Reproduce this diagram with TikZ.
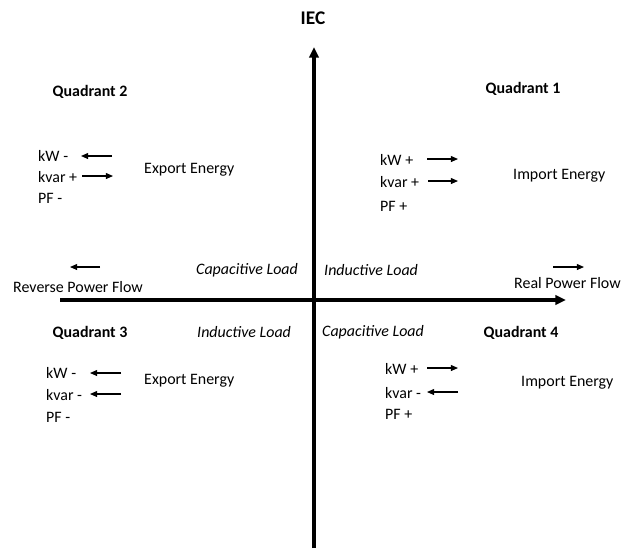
\documentclass[tikz,border=0pt]{standalone}
\usepackage{fontspec}
\setmainfont{Carlito}
\usetikzlibrary{arrows.meta}

\begin{document}
\begin{tikzpicture}[
    x=0.03cm, y=-0.03cm,
    every node/.style={font=\fontsize{13.6}{16}\selectfont, inner sep=0pt},
    quad/.style={font=\fontsize{13.6}{16}\selectfont\bfseries},
    txt/.style={anchor=west},
    load/.style={anchor=west, font=\fontsize{13.6}{16}\selectfont\itshape},
    axis/.style={-{Triangle[length=9pt, width=8pt]}, line width=2.6pt},
    sarr/.style={-{Triangle[length=6pt, width=5pt]}, line width=1pt},
]
\useasboundingbox (0,0) rectangle (623,548);

% ---------------- axes
\coordinate (vbot) at (314,548);
\coordinate (vtop) at (314,47);
\coordinate (hleft) at (60,300);
\coordinate (hright) at (566,300);
\draw[axis] (vbot) -- (vtop);
\draw[axis] (hleft) -- (hright);
\node[quad, font=\fontsize{16.5}{19}\selectfont\bfseries] (iec) at (313,18) {IEC};

% ---------------- quadrant titles
\node[quad] (q1) at (523,89) {Quadrant 1};
\node[quad] (q2) at (90,92) {Quadrant 2};
\node[quad] (q3) at (90,333) {Quadrant 3};
\node[quad] (q4) at (521,333) {Quadrant 4};

% ---------------- quadrant 2
\node[txt] (kw2) at (38,156) {kW -};
\node[txt] (kv2) at (38,177) {kvar +};
\node[txt] (pf2) at (38,198) {PF -};
\node[txt] (en2) at (144,170) {Export Energy};

% ---------------- quadrant 1
\node[txt] (kw1) at (380,160) {kW +};
\node[txt] (kv1) at (380,182) {kvar +};
\node[txt] (pf1) at (380,206) {PF +};
\node[txt] (en1) at (513,176) {Import Energy};

% ---------------- quadrant 3
\node[txt] (kw3) at (46,373) {kW -};
\node[txt] (kv3) at (46,395) {kvar -};
\node[txt] (pf3) at (46,417) {PF -};
\node[txt] (en3) at (144,381) {Export Energy};

% ---------------- quadrant 4
\node[txt] (kw4) at (385,369) {kW +};
\node[txt] (kv4) at (385,393) {kvar -};
\node[txt] (pf4) at (385,414) {PF +};
\node[txt] (en4) at (521,383) {Import Energy};

% ---------------- load types and power flow
\node[load] (cap2) at (196,270) {Capacitive Load};
\node[load] (ind1) at (324,270) {Inductive Load};
\node[load] (ind3) at (197,332) {Inductive Load};
\node[load] (cap4) at (322,332) {Capacitive Load};
\node[txt] (rev) at (13,287) {Reverse Power Flow};
\node[txt] (real) at (514,283) {Real Power Flow};

% ---------------- small direction arrows
\foreach \n/\xa/\xb/\yy in {a2w/112/81/156, a2v/82/113/176,
                           a1w/427/458/159, a1v/428/458/181,
                           a3w/121/90/373, a3v/121/90/394,
                           a4w/427/458/368, a4v/458/427/392,
                           arev/100/70/267, areal/553/584/267}{
    \coordinate (\n s) at (\xa,\yy);
    \coordinate (\n e) at (\xb,\yy);
    \draw[sarr] (\n s) -- (\n e);
}
\end{tikzpicture}
\end{document}
